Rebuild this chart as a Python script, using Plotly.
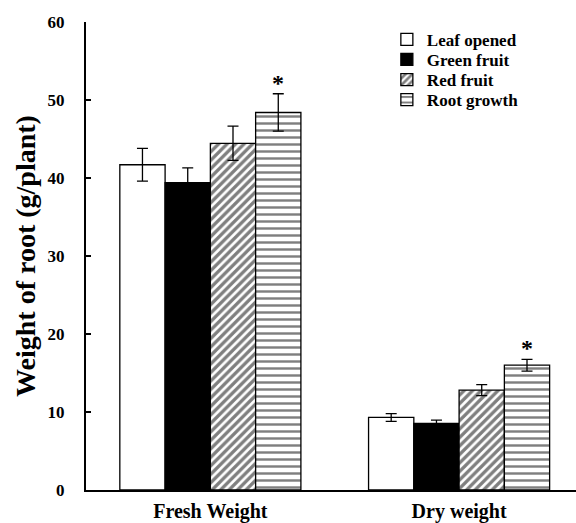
import plotly.graph_objects as go

# Root weight at four growth stages, for fresh and dry roots
categories = ["Fresh Weight", "Dry weight"]
stages = ["Leaf opened", "Green fruit", "Red fruit", "Root growth"]
means = {
    "Leaf opened": [41.7, 9.3],
    "Green fruit": [39.4, 8.55],
    "Red fruit": [44.45, 12.8],
    "Root growth": [48.4, 16.0],
}
errors = {
    "Leaf opened": [2.1, 0.5],
    "Green fruit": [1.9, 0.4],
    "Red fruit": [2.2, 0.7],
    "Root growth": [2.4, 0.75],
}
significant = {"Root growth": [True, True]}
y_ticks = [0, 10, 20, 30, 40, 50, 60]

FONT = "Liberation Serif"
styles = {
    "Leaf opened": dict(color="white", pattern=dict(shape="")),
    "Green fruit": dict(color="black", pattern=dict(shape="")),
    "Red fruit": dict(color="white", pattern=dict(shape="/", fgcolor="black", size=6, solidity=0.55)),
    "Root growth": dict(color="white", pattern=dict(shape="-", fgcolor="black", size=7, solidity=0.35)),
}

x_pos = list(range(len(categories)))
bargap = 0.272
bar_w = (1 - bargap) / len(stages)

# one small legend per stage so the entries can sit close together
legend_names = ["legend", "legend2", "legend3", "legend4"]
legend_y = [0.962, 0.919, 0.876, 0.833]

fig = go.Figure()
for i, s in enumerate(stages):
    fig.add_trace(go.Bar(
        name=s,
        x=x_pos,
        y=means[s],
        legend=legend_names[i],
        marker=dict(color=styles[s]["color"], pattern=styles[s]["pattern"],
                    line=dict(color="black", width=1.3)),
        error_y=dict(type="data", array=errors[s], color="black", thickness=1.3, width=5.5),
    ))

# significance stars above the error bars
for i, s in enumerate(stages):
    if s in significant:
        offset = (i - (len(stages) - 1) / 2) * bar_w
        for k, flag in enumerate(significant[s]):
            if flag:
                fig.add_annotation(
                    x=x_pos[k] + offset, y=means[s][k] + errors[s][k],
                    text="*", showarrow=False, yanchor="bottom", yshift=-4,
                    font=dict(family=FONT, size=24, color="black", weight="bold"),
                )

legend_style = dict(x=0.614, xanchor="left", yanchor="middle", bgcolor="rgba(0,0,0,0)",
                    font=dict(family=FONT, size=17, color="black", weight="bold"),
                    itemwidth=30)
layout_legends = {name: dict(y=legend_y[i], **legend_style) for i, name in enumerate(legend_names)}

fig.update_layout(
    width=576, height=523,
    margin=dict(l=86, r=0, t=22, b=33),
    paper_bgcolor="white", plot_bgcolor="white",
    barmode="group", bargap=bargap, bargroupgap=0,
    font=dict(family=FONT, size=17, color="black", weight="bold"),
    showlegend=True,
    xaxis=dict(
        range=[-0.5, 1.47], tickvals=x_pos, ticktext=categories,
        showline=True, linecolor="black", linewidth=2, ticks="", showgrid=False,
        zeroline=False, tickfont=dict(family=FONT, size=20, weight="bold"),
        ticklabelstandoff=2,
    ),
    yaxis=dict(
        range=[0, 60], tickvals=y_ticks, showline=True, linecolor="black", linewidth=2,
        ticks="inside", ticklen=5, tickwidth=1.5, tickcolor="black", showgrid=False,
        zeroline=False, tickfont=dict(family=FONT, size=17, weight="bold"),
        ticklabelstandoff=16,
        title=dict(text="Weight of root (g/plant)", font=dict(family=FONT, size=28, weight="bold"),
                   standoff=4),
    ),
    **layout_legends,
)

fig.write_html("out.html")
